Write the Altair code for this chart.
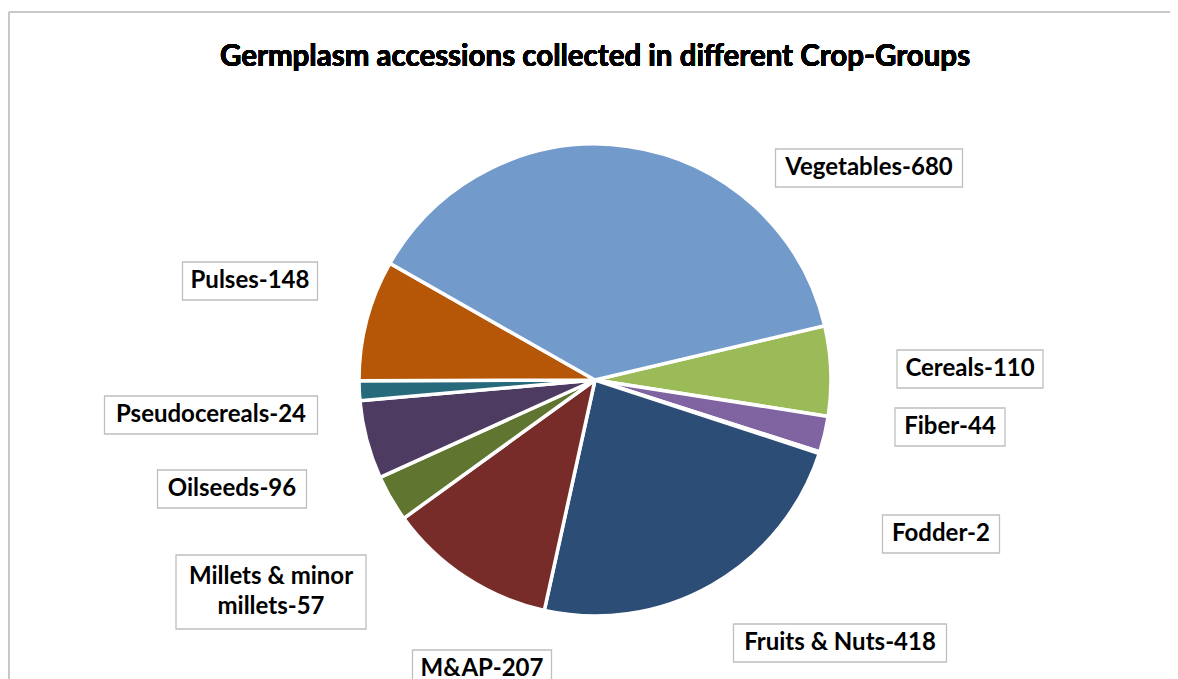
import math
import altair as alt
import pandas as pd

# ---- data ----
categories = ["Cereals", "Fiber", "Fodder", "Fruits & Nuts", "M&AP",
              "Millets & minor millets", "Oilseeds", "Pseudocereals", "Pulses", "Vegetables"]
values = [110, 44, 2, 418, 207, 57, 96, 24, 148, 680]
label_texts = ["Cereals-110", "Fiber-44", "Fodder-2", "Fruits & Nuts-418", "M&AP-207",
               "Millets & minor\nmillets-57", "Oilseeds-96", "Pseudocereals-24", "Pulses-148",
               "Vegetables-680"]
colors = ["#9BBB59", "#8064A2", "#4BACC6", "#2C4D75", "#772C2A",
          "#5F7530", "#4D3B62", "#276A7C", "#B65708", "#729ACA"]

# ---- layout (pixel positions of the label boxes inside the plot area) ----
W, H = 1162, 671
CX, CY, R = 587, 372, 236
START = math.radians(76.7)
label_cx = [962, 942, 933, 832, 474, 263, 224, 203, 242, 861]
label_cy = [361, 419, 526, 635, 661, 584, 481, 407, 273, 160]
box_w = [146, 110, 117, 213, 139, 190, 149, 213, 135, 187]
box_h = [38, 38, 38, 38, 38, 74, 38, 38, 38, 38]
LINE_H = 30

FONT = "Lato"

pie_df = pd.DataFrame({"cat": categories, "value": values, "idx": range(len(values))})
n_lines = [t.count("\n") + 1 for t in label_texts]
lab_df = pd.DataFrame({
    "cat": categories, "label": label_texts,
    "cx": label_cx,
    "ty": [c - (n - 1) * LINE_H / 2 for c, n in zip(label_cy, n_lines)],
    "x1": [c - w / 2 for c, w in zip(label_cx, box_w)],
    "x2": [c + w / 2 for c, w in zip(label_cx, box_w)],
    "y1": [c - h / 2 for c, h in zip(label_cy, box_h)],
    "y2": [c + h / 2 for c, h in zip(label_cy, box_h)],
})

xs = alt.Scale(domain=[0, W], range=[0, W])
ys = alt.Scale(domain=[0, H], range=[0, H])

pie = alt.Chart(pie_df).mark_arc(stroke="white", strokeWidth=3.5, radius=R).encode(
    theta=alt.Theta("value:Q", stack=True,
                    scale=alt.Scale(range=[START, START + 2 * math.pi])),
    order=alt.Order("idx:Q"),
    color=alt.Color("cat:N", scale=alt.Scale(domain=categories, range=colors), legend=None),
    x=alt.value(CX), y=alt.value(CY),
)

boxes = alt.Chart(lab_df).mark_rect(fill="white", stroke="#BFBFBF", strokeWidth=1.3).encode(
    x=alt.X("x1:Q", scale=xs, axis=None), x2="x2:Q",
    y=alt.Y("y1:Q", scale=ys, axis=None), y2="y2:Q",
)

texts = alt.Chart(lab_df).mark_text(
    font=FONT, fontSize=24, fontWeight="bold", color="black",
    lineBreak="\n", lineHeight=LINE_H, align="center", baseline="middle"
).encode(
    x=alt.X("cx:Q", scale=xs, axis=None),
    y=alt.Y("ty:Q", scale=ys, axis=None),
    text="label:N",
)

frame_top = alt.Chart(pie_df).mark_rule(color="#C8C8C8", strokeWidth=2).encode(
    x=alt.value(1), x2=alt.value(W + 20), y=alt.value(4))
frame_left = alt.Chart(pie_df).mark_rule(color="#C8C8C8", strokeWidth=2).encode(
    x=alt.value(1), y=alt.value(4), y2=alt.value(H + 20))

title = alt.Chart(pie_df).mark_text(
    font=FONT, fontSize=29.5, fontWeight="bold", color="black", align="center", baseline="middle"
).encode(x=alt.value(587), y=alt.value(49),
         text=alt.value("Germplasm accessions collected in different Crop-Groups"))

chart = alt.layer(frame_top, frame_left, pie, boxes, texts, title).properties(
    width=W, height=H, padding=0, autosize=alt.AutoSizeParams(type="none")
).configure_view(stroke=None)

chart.save("out.html", embed_options={"renderer": "svg", "actions": False})
